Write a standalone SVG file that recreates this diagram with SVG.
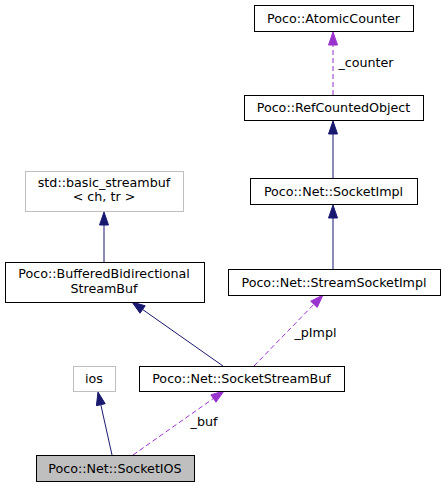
<svg xmlns="http://www.w3.org/2000/svg" width="445" height="487" viewBox="0 0 445 487">
<style>
text{font-family:"DejaVu Sans",sans-serif;font-size:12.7px;text-anchor:middle;fill:#000}
.n rect{fill:#fff;stroke:#000;stroke-width:1}
.g rect{fill:#fff;stroke:#bfbfbf;stroke-width:1}
.s{stroke:#191970;fill:none}
.sa{fill:#191970;stroke:#191970}
.d{stroke:#9a32cd;fill:none;stroke-dasharray:5,3}
.da{fill:#9a32cd;stroke:#9a32cd}
</style>
<rect width="445" height="487" fill="#fff"/>
<g id="connectors">
<line class="d" x1="333" y1="95" x2="333" y2="45"/>
<polygon class="da" points="328.5,45 333,32 337.5,45"/>
<text x="366" y="67">_counter</text>
<line class="s" x1="333" y1="178" x2="333" y2="134"/>
<polygon class="sa" points="328.5,134 333,121 337.5,134"/>
<line class="s" x1="333" y1="269" x2="333" y2="218"/>
<polygon class="sa" points="328.5,218 333,205 337.5,218"/>
<line class="s" x1="104" y1="262" x2="104" y2="225"/>
<polygon class="sa" points="99.5,225 104,212 108.5,225"/>
<line class="s" x1="223" y1="366" x2="142.6" y2="309.5"/>
<polygon class="sa" points="145.2,305.8 132,302 140,313.2"/>
<line class="d" x1="254" y1="366" x2="313.9" y2="304.3"/>
<polygon class="da" points="317.2,307.4 323,295 310.7,301.2"/>
<text x="315.5" y="337">_pImpl</text>
<line class="s" x1="112" y1="455" x2="100.8" y2="404.7"/>
<polygon class="sa" points="105.2,403.7 98,392 96.4,405.7"/>
<line class="d" x1="133" y1="455" x2="213.4" y2="398.5"/>
<polygon class="da" points="216,402.2 224,391 210.8,394.8"/>
<text x="204" y="426">_buf</text>
</g>
<g id="node_atomiccounter" class="n"><rect x="254.5" y="5.5" width="159" height="26"/><text x="333.5" y="22.5">Poco::AtomicCounter</text></g>
<g id="node_refcountedobject" class="n"><rect x="244.5" y="95.5" width="179" height="25"/><text x="333.5" y="112">Poco::RefCountedObject</text></g>
<g id="node_socketimpl" class="n"><rect x="250.5" y="178.5" width="167" height="26"/><text x="333.5" y="196">Poco::Net::SocketImpl</text></g>
<g id="node_basic_streambuf" class="g"><rect x="25.5" y="171.5" width="158" height="40"/><text x="104" y="187">std::basic_streambuf</text><text x="104" y="201">&lt; ch, tr &gt;</text></g>
<g id="node_bufferedbidirectional" class="n"><rect x="5.5" y="262.5" width="199" height="40"/><text x="104" y="278">Poco::BufferedBidirectional</text><text x="104" y="292.5">StreamBuf</text></g>
<g id="node_streamsocketimpl" class="n"><rect x="228.5" y="269.5" width="212" height="26"/><text x="334" y="286.5">Poco::Net::StreamSocketImpl</text></g>
<g id="node_ios" class="g"><rect x="73.5" y="366.5" width="42" height="25"/><text x="94" y="383">ios</text></g>
<g id="node_socketstreambuf" class="n"><rect x="139.5" y="366.5" width="205" height="25"/><text x="241.5" y="383">Poco::Net::SocketStreamBuf</text></g>
<g id="node_socketios" class="n"><rect x="36.5" y="455.5" width="158" height="26" style="fill:#bfbfbf"/><text x="115" y="472.5">Poco::Net::SocketIOS</text></g>
</svg>
